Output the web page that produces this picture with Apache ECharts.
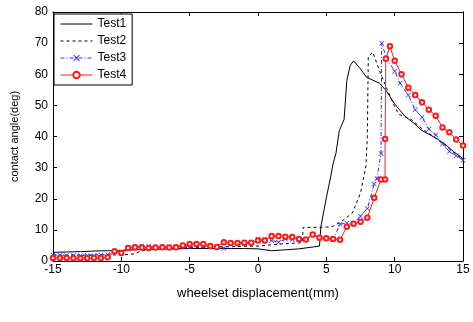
<!DOCTYPE html>
<html>
<head>
<meta charset="utf-8">
<script src="https://cdn.jsdelivr.net/npm/echarts@6/dist/echarts.min.js"></script>
<style>
  html, body { margin: 0; padding: 0; background: #fff; }
  #chart { width: 473px; height: 322px; }
</style>
</head>
<body>
<div id="chart"></div>
<script>
// data: [displacement (mm), contact angle (deg)]
const test1 = [
  [-15, 2.8], [-14, 2.9], [-13, 3.0], [-12, 3.2], [-11, 3.3], [-10, 3.3], [-9, 3.6], [-8, 3.7],
  [-7, 3.8], [-6, 3.9], [-5, 4.0], [-4, 4.0], [-3, 4.0], [-2, 4.0], [-1, 4.0], [0, 3.9],
  [1, 3.3], [2, 3.6], [3, 3.9], [4.5, 4.8], [4.6, 11], [5.0, 20.3], [5.3, 26.7], [5.5, 31.4],
  [5.7, 34.5], [5.95, 41.9], [6.3, 45.5], [6.5, 58], [6.75, 62.9], [7.0, 64.3], [7.46, 61.9],
  [7.95, 59], [8.9, 57.1], [9.4, 54.6], [10.0, 50.5], [10.75, 46.5], [11.4, 44.3], [12.0, 41.9],
  [12.6, 40.5], [13.2, 39], [13.8, 37.1], [14.3, 35.2], [15, 32.9]
];
const test2 = [
  [-15, 1.9], [-13, 1.9], [-11, 2.0], [-10, 1.9], [-9, 2.3], [-8.5, 3.4], [-8, 3.6], [-7, 3.8],
  [-6, 4.0], [-5, 4.4], [-4, 4.4], [-3, 4.5], [-2, 4.6], [-1, 4.7], [0, 4.8], [1, 5.2],
  [2, 5.6], [3, 5.8], [3.25, 6.0], [3.3, 10.8], [4, 10.8], [5, 10.9], [5.4, 11.0], [6.05, 12.5],
  [6.9, 15.4], [7.5, 21.8], [7.9, 30.6], [8.0, 40], [8.07, 65.7], [8.4, 67.1], [8.9, 61],
  [9.4, 55.7], [9.9, 50.5], [10.3, 47.1], [10.7, 46.5], [11.2, 45.5], [12, 42.5], [13, 39.5],
  [14, 36], [15, 32.5]
];
const test3 = [
  [-15, 1.9], [-14.5, 1.9], [-14, 1.8], [-13.5, 1.8], [-13, 1.7], [-12.5, 1.8], [-12, 1.7],
  [-11.5, 1.9], [-11, 2.0], [-10.5, 2.9], [-10, 3.0], [-9.5, 4.3], [-9, 4.6], [-8.5, 4.8],
  [-8, 4.7], [-7.5, 4.5], [-7, 4.5], [-6.5, 4.6], [-6, 4.5], [-5.5, 5.0], [-5, 4.5], [-4.5, 5.2],
  [-4, 4.8], [-3.5, 4.8], [-3, 4.5], [-2.5, 4.1], [-2, 5.4], [-1.5, 5.5], [-1, 5.6], [-0.5, 6.0],
  [0, 7.1], [0.5, 7.0], [1, 6.6], [1.5, 6.0], [2, 7.1], [2.5, 6.9], [3, 6.8], [3.5, 6.8],
  [4, 8.5], [4.5, 7.5], [5, 7.3], [5.5, 7.0], [6, 11.8], [6.5, 12.2], [7, 12.0], [7.5, 14.4],
  [8, 16.9], [8.5, 24.7], [8.7, 26.5], [9.0, 34.5], [9.05, 70], [9.4, 65.2], [10, 61],
  [10.4, 57.1], [11, 53.3], [11.5, 48.6], [12, 46.2], [12.5, 42.4], [13, 40.5], [13.5, 37.6],
  [14, 35.2], [14.5, 33.8], [15, 32.4]
];
const test4 = [
  [-15, 1.0], [-14.5, 1.0], [-14, 1.0], [-13.5, 0.9], [-13, 0.9], [-12.5, 0.9], [-12, 1.0],
  [-11.5, 1.0], [-11, 1.2], [-10.5, 3.1], [-10, 2.6], [-9.5, 4.2], [-9, 4.4], [-8.5, 4.3],
  [-8, 4.2], [-7.5, 4.3], [-7, 4.4], [-6.5, 4.3], [-6, 4.4], [-5.5, 5.0], [-5, 5.5], [-4.5, 5.5],
  [-4, 5.5], [-3.5, 4.8], [-3, 4.5], [-2.5, 6.0], [-2, 5.8], [-1.5, 5.8], [-1, 5.9], [-0.5, 5.9],
  [0, 6.6], [0.5, 6.6], [1, 8.0], [1.5, 8.0], [2, 7.8], [2.5, 7.7], [3, 7.1], [3.5, 6.9],
  [4, 8.5], [4.5, 7.5], [5, 7.3], [5.5, 7.1], [6, 6.8], [6.5, 11], [7, 12], [7.5, 12.6],
  [8, 13.9], [8.5, 20.3], [9, 26.2], [9.3, 26.2], [9.3, 39.2], [9.35, 65], [9.65, 69],
  [10, 64.3], [10.5, 60], [11, 55.7], [11.5, 53.3], [12, 51], [12.5, 48.6], [13, 46.7],
  [13.5, 42.9], [14, 41.4], [14.5, 39], [15, 37.1]
];
const seriesNames = ['Test1', 'Test2', 'Test3', 'Test4'];

const chart = echarts.init(document.getElementById('chart'));
const font = 'Liberation Sans, Arial, sans-serif';
const crossSymbol = 'path://M0,1L1,0L5,4L9,0L10,1L6,5L10,9L9,10L5,6L1,10L0,9L4,5Z';

const axisCommon = {
  axisLine: { show: true, onZero: false, lineStyle: { color: '#000', width: 1 } },
  axisTick: { show: true, inside: true, length: 4, lineStyle: { color: '#000' } },
  splitLine: { show: false }
};

chart.setOption({
  animation: false,
  backgroundColor: '#fff',
  textStyle: { fontFamily: font },
  grid: { left: 53, right: 10, top: 12, bottom: 61 },
  legend: {
    // plain lines (no marker) for the first two entries
    data: [
      { name: seriesNames[0], itemStyle: { opacity: 0 } },
      { name: seriesNames[1], itemStyle: { opacity: 0 } },
      { name: seriesNames[2] },
      { name: seriesNames[3] }
    ],
    orient: 'vertical',
    left: 54,
    top: 14,
    itemWidth: 32,
    itemHeight: 8,
    itemGap: 5,
    padding: [4, 6, 4, 6],
    backgroundColor: '#fff',
    borderColor: '#000',
    borderWidth: 1,
    borderRadius: 0,
    lineStyle: { width: 1 },
    textStyle: { fontSize: 12, color: '#000', fontFamily: font }
  },
  xAxis: [
    Object.assign({
      type: 'value', min: -15, max: 15, interval: 5, position: 'bottom',
      name: 'wheelset displacement(mm)', nameLocation: 'middle', nameGap: 26,
      nameTextStyle: { fontSize: 13, color: '#000' },
      axisLabel: { fontSize: 12, color: '#000', margin: 3 }
    }, axisCommon),
    Object.assign({
      type: 'value', min: -15, max: 15, interval: 5, position: 'top',
      axisLabel: { show: false }
    }, axisCommon)
  ],
  yAxis: [
    Object.assign({
      type: 'value', min: 0, max: 80, interval: 10, position: 'left',
      name: 'contact angle(deg)', nameLocation: 'middle', nameGap: 33, nameRotate: 90,
      nameTextStyle: { fontSize: 11, color: '#000' },
      axisLabel: { fontSize: 12, color: '#000', margin: 5 }
    }, axisCommon),
    Object.assign({
      type: 'value', min: 0, max: 80, interval: 10, position: 'right',
      axisLabel: { show: false }
    }, axisCommon)
  ],
  series: [
    {
      name: 'Test1', type: 'line', data: test1, showSymbol: false, symbol: 'none',
      lineStyle: { color: '#000', width: 1 }, itemStyle: { color: '#000' }
    },
    {
      name: 'Test2', type: 'line', data: test2, showSymbol: false, symbol: 'none',
      lineStyle: { color: '#000', width: 1, type: [3, 3] }, itemStyle: { color: '#000' }
    },
    {
      name: 'Test3', type: 'line', data: test3, symbol: crossSymbol, symbolSize: 5,
      lineStyle: { color: '#2a2aff', width: 1, type: [4, 2, 1, 2] },
      itemStyle: { color: '#2a2aff', borderWidth: 0 }
    },
    {
      name: 'Test4', type: 'line', data: test4, symbol: 'emptyCircle', symbolSize: 4.5,
      lineStyle: { color: '#ff1a1a', width: 1 },
      itemStyle: { color: '#ff1a1a', borderWidth: 0.8 }
    }
  ]
});
</script>
</body>
</html>
